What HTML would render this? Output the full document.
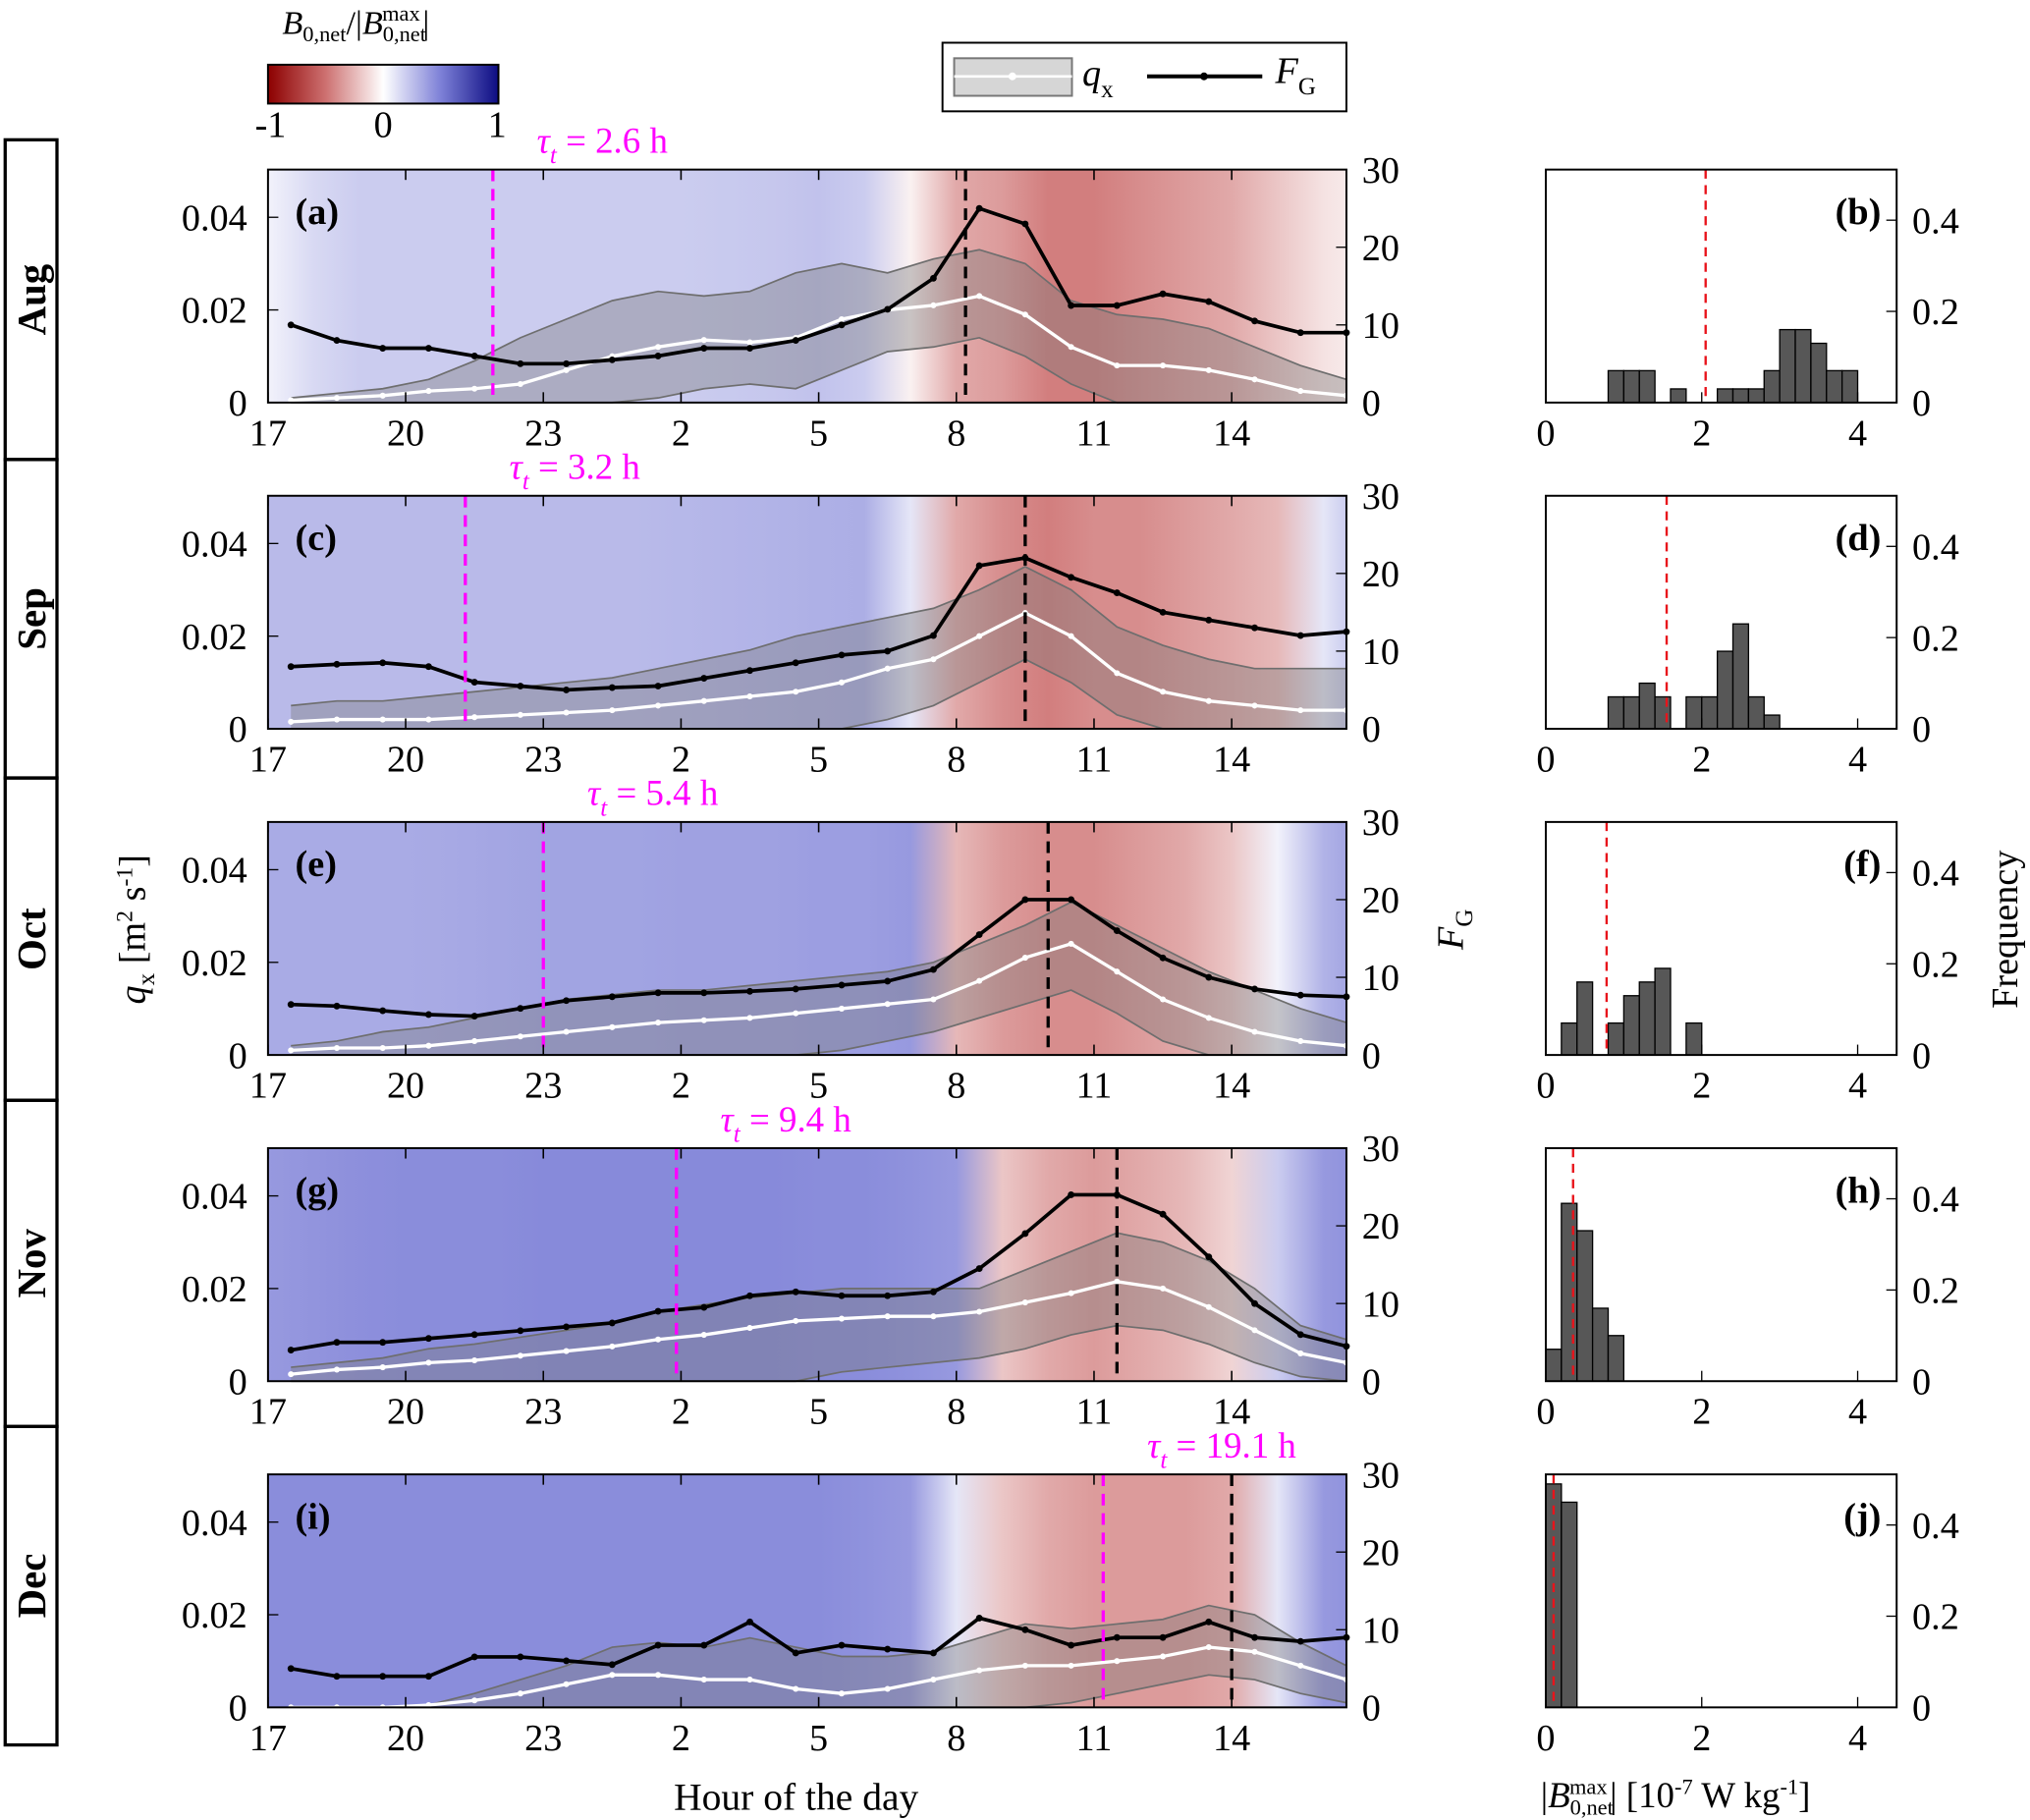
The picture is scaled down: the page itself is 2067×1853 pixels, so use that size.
<!DOCTYPE html>
<html><head><meta charset="utf-8"><style>
html,body{margin:0;padding:0;background:#fff;}
svg{display:block;font-family:"Liberation Serif",serif;}
</style></head><body>
<svg id="fig" width="2067" height="1853" viewBox="0 0 1568 1406" preserveAspectRatio="none" xmlns="http://www.w3.org/2000/svg"></svg>
<script>
// ---- data (clock hours 17.5,18.5,...,16.5) ----
const hourTicks=['17','20','23','2','5','8','11','14'];
const months=['Aug','Sep','Oct','Nov','Dec'];
const labelsL=['(a)','(c)','(e)','(g)','(i)'];
const labelsR=['(b)','(d)','(f)','(h)','(j)'];
const qTicks=[0,0.02,0.04];
const fTicks=[0,10,20,30];
const freqTicks=[0,0.2,0.4];
const bTicks=[0,2,4];
const fA=[10,8,7,7,6,5,5,5.5,6,7,7,8,10,12,16,25,23,12.5,12.5,14,13,10.5,9,9];
const fC=[8,8.3,8.5,8,6,5.5,5,5.3,5.5,6.5,7.5,8.5,9.5,10,12,21,22,19.5,17.5,15,14,13,12,12.5];
const fE=[6.5,6.3,5.7,5.2,5,6,7,7.5,8,8,8.2,8.5,9,9.5,11,15.5,20,20,16,12.5,10,8.5,7.7,7.5];
const fG=[4,5,5,5.5,6,6.5,7,7.5,9,9.5,11,11.5,11,11,11.5,14.5,19,24,24,21.5,16,10,6,4.5];
const fI=[5,4,4,4,6.5,6.5,6,5.5,8,8,11,7,8,7.5,7,11.5,10,8,9,9,11,9,8.5,9];
const qA=[0.5,1,1.5,2.5,3,4,7,10,12,13.5,13,14,18,20,21,23,19,12,8,8,7,5,2.5,1.5];
const qC=[1.5,2,2,2,2.5,3,3.5,4,5,6,7,8,10,13,15,20,25,20,12,8,6,5,4,4];
const qE=[1,1.5,1.5,2,3,4,5,6,7,7.5,8,9,10,11,12,16,21,24,18,12,8,5,3,2];
const qG=[1.5,2.5,3,4,4.5,5.5,6.5,7.5,9,10,11.5,13,13.5,14,14,15,17,19,21.5,20,16,11,6,4];
const qI=[0,0,0,0.5,1.5,3,5,7,7,6,6,4,3,4,6,8,9,9,10,11,13,12,9,6];
const hiA=[1,2,3,5,9,14,18,22,24,23,24,28,30,28,31,33,30,22,19,18,16,12,8,5];
const hiC=[5,6,6,7,8,9,10,11,13,15,17,20,22,24,26,30,35,30,22,18,15,13,13,13];
const hiE=[2,3,5,6,8,10,12,13,14,14,15,16,17,18,20,24,28,33,28,23,18,14,10,7];
const hiG=[3,4,5,7,8,9.5,11,12.5,15,16.5,18,19,20,20,20,20,24,28,32,30,26,20,12,9];
const hiI=[0,0,0,0.5,3,6,9,13,14,13,15,13,11,11,12,15,18,17,18,19,22,20,14,9];
const loA=[0,0,0,0,0,0,0,0,1,3,4,3,7,11,12,14,10,4,0,0,0,0,0,0];
const loC=[0,0,0,0,0,0,0,0,0,0,0,0,0,2,5,10,15,10,3,0,0,0,0,0];
const loE=[0,0,0,0,0,0,0,0,0,0,0,0,1,3,5,8,11,14,9,3,0,0,0,0];
const loG=[0,0,0,0,0,0,0,0,0,0,0,0,2,3,4,5,7,10,12,11,8,4,1,0];
const loI=[0,0,0,0,0,0,0,0,0,0,0,0,0,0,0,0,0,1,3,5,7,6,3,1];
// background B0 normalised, clock hours 17,18,...,17
const bgA=[0.05,0.15,0.2,0.2,0.2,0.2,0.2,0.2,0.2,0.2,0.21,0.22,0.24,0.2,-0.05,-0.3,-0.35,-0.45,-0.45,-0.4,-0.35,-0.3,-0.2,-0.1,-0.05];
const bgC=[0.27,0.27,0.27,0.27,0.27,0.27,0.27,0.27,0.27,0.28,0.29,0.3,0.31,0.32,0.1,-0.3,-0.4,-0.45,-0.4,-0.4,-0.35,-0.3,-0.25,0.1,0.3];
const bgE=[0.33,0.33,0.33,0.33,0.34,0.35,0.36,0.36,0.36,0.37,0.37,0.37,0.38,0.38,0.4,-0.25,-0.35,-0.4,-0.4,-0.35,-0.3,-0.2,0.05,0.3,0.4];
const bgG=[0.4,0.42,0.44,0.45,0.45,0.45,0.46,0.46,0.46,0.46,0.46,0.46,0.45,0.45,0.43,0.4,-0.2,-0.3,-0.35,-0.3,-0.25,-0.15,0.2,0.4,0.45];
const bgI=[0.45,0.45,0.45,0.45,0.45,0.45,0.45,0.45,0.45,0.45,0.45,0.45,0.45,0.43,0.4,0.1,-0.2,-0.3,-0.35,-0.35,-0.35,-0.3,0.1,0.4,0.45];
const peakF=[8.2,9.5,10.0,11.5,14.0];
const tauLine=[21.9,21.3,23.0,1.9,11.2];
const tauText=['2.6','3.2','5.4','9.4','19.1'];
// histograms: bin starts (width 0.2) and frequencies
const hbA=[0.8,1.0,1.2,1.6,2.2,2.4,2.6,2.8,3.0,3.2,3.4,3.6,3.8];
const hvA=[0.07,0.07,0.07,0.03,0.03,0.03,0.03,0.07,0.16,0.16,0.13,0.07,0.07];
const hbC=[0.8,1.0,1.2,1.4,1.8,2.0,2.2,2.4,2.6,2.8];
const hvC=[0.07,0.07,0.10,0.07,0.07,0.07,0.17,0.23,0.07,0.03];
const hbE=[0.2,0.4,0.8,1.0,1.2,1.4,1.8];
const hvE=[0.07,0.16,0.07,0.13,0.16,0.19,0.07];
const hbG=[0.0,0.2,0.4,0.6,0.8];
const hvG=[0.07,0.39,0.33,0.16,0.10];
const hbI=[0.0,0.2];
const hvI=[0.49,0.45];
const medB=[2.05,1.55,0.78,0.35,0.1];

const svg=document.getElementById('fig');
const NS='http://www.w3.org/2000/svg';
function el(tag,attrs,parent){const e=document.createElementNS(NS,tag);for(const k in attrs)e.setAttribute(k,attrs[k]);(parent||svg).appendChild(e);return e;}
function col(v){let a,b,t;if(v>=0){if(v<0.5){a=[255,255,255];b=[125,128,215];t=v/0.5;}else{a=[125,128,215];b=[12,12,130];t=(v-0.5)/0.5;}}
 else{const w=-v;if(w<0.5){a=[255,255,255];b=[205,112,112];t=w/0.5;}else{a=[205,112,112];b=[140,0,0];t=(w-0.5)/0.5;}}
 return 'rgb('+a.map((c,i)=>Math.round(c+(b[i]-c)*t)).join(',')+')';}

const L=207,R=1040,PH=180,HL=1194,HR=1465;
const tops=[131,383,635,887,1139];
const FS=[fA,fC,fE,fG,fI],QS=[qA,qC,qE,qG,qI],HI=[hiA,hiC,hiE,hiG,hiI],LO=[loA,loC,loE,loG,loI],BG=[bgA,bgC,bgE,bgG,bgI];
const HB=[hbA,hbC,hbE,hbG,hbI],HV=[hvA,hvC,hvE,hvG,hvI];
const defs=el('defs',{});
function xe(e){return L+e*(R-L)/23.5;}
function xc(c){return xe(((c-17)%24+24)%24);}

for(let p=0;p<5;p++){
 const T=tops[p],B=T+PH;
 const yq=v=>B-v/0.0503*PH, yf=v=>B-v/30*PH;
 const g=el('g',{});
 
 
 const gid='bg'+p;const lg=el('linearGradient',{id:gid,gradientUnits:'userSpaceOnUse',x1:L,x2:xe(24),y1:0,y2:0},defs);
 BG[p].forEach((v,i)=>el('stop',{offset:(i/24),'stop-color':col(v)},lg));
 const bg=el('rect',{x:L,y:T,width:R-L,height:PH,fill:'url(#'+gid+')'},g);
 
 
 const n=QS[p].length;let up=[],dn=[];
 for(let i=0;i<n;i++){up.push(xe(i+0.5)+','+yq(HI[p][i]/1000));}
 for(let i=n-1;i>=0;i--){dn.push(xe(i+0.5)+','+yq(LO[p][i]/1000));}
 const band=el('polygon',{points:up.concat(dn).join(' '),fill:'rgba(120,120,120,0.38)',stroke:'none'},g);
 
 
 el('polyline',{points:up.join(' '),fill:'none',stroke:'#6e6e6e','stroke-width':1.3},g);
 el('polyline',{points:dn.join(' '),fill:'none',stroke:'#6e6e6e','stroke-width':1.3},g);
 const mp=QS[p].map((v,i)=>xe(i+0.5)+','+yq(v/1000)).join(' ');
 const ml=el('polyline',{points:mp,fill:'none',stroke:'#fff','stroke-width':2.5},g);
 
 
 QS[p].forEach((v,i)=>{el('circle',{cx:xe(i+0.5),cy:yq(v/1000),r:2.3,fill:'#fff'},g);});
 const fp=FS[p].map((v,i)=>xe(i+0.5)+','+yf(v)).join(' ');
 const fl=el('polyline',{points:fp,fill:'none',stroke:'#000','stroke-width':2.8},g);
 
 
 FS[p].forEach((v,i)=>{el('circle',{cx:xe(i+0.5),cy:yf(v),r:2.6,fill:'#000'},g);});
 const pk=el('line',{x1:xc(peakF[p]),x2:xc(peakF[p]),y1:T,y2:B,stroke:'#000','stroke-width':2.5,'stroke-dasharray':'9,6'},g);
 
 
 const tl=el('line',{x1:xc(tauLine[p]),x2:xc(tauLine[p]),y1:T,y2:B,stroke:'#ff00ff','stroke-width':2.5,'stroke-dasharray':'9,6'},g);
 
 
 const tt=el('text',{x:xc(tauLine[p])+34,y:T-13,fill:'#ff00ff','font-size':28},g);
 tt.innerHTML='<tspan font-style="italic">τ</tspan><tspan font-size="19" dy="8" font-style="italic">t</tspan><tspan dy="-8">  =  '+tauText[p]+' h</tspan>';
 
 
 el('rect',{x:L,y:T,width:R-L,height:PH,fill:'none',stroke:'#000','stroke-width':1.5},g);
 hourTicks.forEach((h,i)=>{const x=xe(i*3);el('line',{x1:x,x2:x,y1:B,y2:B-8,stroke:'#000','stroke-width':1.2},g);el('line',{x1:x,x2:x,y1:T,y2:T+8,stroke:'#000','stroke-width':1.2},g);
  const t=el('text',{x:x,y:B+33,'font-size':29,'text-anchor':'middle'},g);t.textContent=h;
  
  });
 qTicks.forEach(v=>{const y=yq(v);el('line',{x1:L,x2:L+8,y1:y,y2:y,stroke:'#000'},g);
  const t=el('text',{x:L-16,y:y+10,'font-size':29,'text-anchor':'end'},g);t.textContent=v===0?'0':v.toFixed(2);
  
  });
 fTicks.forEach(v=>{const y=yf(v);el('line',{x1:R,x2:R-8,y1:y,y2:y,stroke:'#000'},g);
  const t=el('text',{x:R+12,y:y+10,'font-size':29},g);t.textContent=v;
  
  });
 const pl=el('text',{x:228,y:T+42,'font-size':29,'font-weight':'bold'},g);pl.textContent=labelsL[p];
 
 
 const hx=v=>HL+v*(HR-HL)/4.5, hy=v=>B-v/0.511*PH;
 const hg=el('g',{});
 
 
 HB[p].forEach((b,i)=>{const r=el('rect',{x:hx(b),y:hy(HV[p][i]),width:hx(b+0.2)-hx(b),height:B-hy(HV[p][i]),fill:'#575757',stroke:'#000','stroke-width':1},hg);
  
  });
 const md=el('line',{x1:hx(medB[p]),x2:hx(medB[p]),y1:T,y2:B,stroke:'#e8141b','stroke-width':1.8,'stroke-dasharray':'7,5'},hg);
 
 
 el('rect',{x:HL,y:T,width:HR-HL,height:PH,fill:'none',stroke:'#000','stroke-width':1.5},hg);
 bTicks.forEach(v=>{const x=hx(v);el('line',{x1:x,x2:x,y1:B,y2:B-8,stroke:'#000'},hg);
  const t=el('text',{x:x,y:B+33,'font-size':29,'text-anchor':'middle'},hg);t.textContent=v;
  
  });
 freqTicks.forEach(v=>{const y=hy(v);el('line',{x1:HR,x2:HR-8,y1:y,y2:y,stroke:'#000'},hg);
  const t=el('text',{x:HR+12,y:y+10,'font-size':29},hg);t.textContent=v===0?'0':v.toFixed(1);
  
  });
 const hl=el('text',{x:1453,y:T+42,'font-size':29,'font-weight':'bold','text-anchor':'end'},hg);hl.textContent=labelsR[p];
 
 
}
const mTops=[108,355,601,850,1102,1348];
for(let i=0;i<5;i++){const y0=mTops[i],y1=mTops[i+1];
 el('rect',{x:4,y:y0,width:40,height:y1-y0,fill:'none',stroke:'#000','stroke-width':2.5});
 const t=el('text',{x:0,y:0,'font-size':31,'font-weight':'bold','text-anchor':'middle',transform:'translate(35,'+((y0+y1)/2)+') rotate(-90)'});t.textContent=months[i];
 
 }
const cg=el('linearGradient',{id:'cbar',x1:0,x2:1,y1:0,y2:0},defs);
for(let i=0;i<=20;i++){el('stop',{offset:i/20,'stop-color':col(-1+i/10)},cg);}
const cb=el('rect',{x:207,y:50,width:178,height:30,fill:'url(#cbar)',stroke:'#000','stroke-width':1.5});


[['-1',209],['0',296],['1',384]].forEach(a=>{const t=el('text',{x:a[1],y:106,'font-size':29,'text-anchor':'middle'});t.textContent=a[0];
 
 });
const ct=el('text',{x:218,y:26,'font-size':26});
ct.innerHTML='<tspan font-style="italic">B</tspan><tspan font-size="17" dy="6">0,net</tspan><tspan dy="-6">/|</tspan><tspan font-style="italic">B</tspan><tspan font-size="17" dy="6">0,net</tspan><tspan font-size="17" dx="-34" dy="-16">max</tspan><tspan dx="2" dy="10">|</tspan>';


const lgG=el('g',{});


el('rect',{x:728,y:33,width:312,height:53,fill:'#fff',stroke:'#000','stroke-width':1.5},lgG);
el('rect',{x:737,y:45,width:91,height:29,fill:'#d6d6d6',stroke:'#777','stroke-width':1.5},lgG);
el('line',{x1:737,x2:828,y1:59,y2:59,stroke:'#fff','stroke-width':2},lgG);
el('circle',{cx:782,cy:59,r:3,fill:'#fff'},lgG);
const l1=el('text',{x:836,y:66,'font-size':29},lgG);l1.innerHTML='<tspan font-style="italic">q</tspan><tspan font-size="19" dy="9">x</tspan>';
el('line',{x1:886,x2:975,y1:59,y2:59,stroke:'#000','stroke-width':3},lgG);
el('circle',{cx:930,cy:59,r:3,fill:'#000'},lgG);
const l2=el('text',{x:985,y:64,'font-size':29},lgG);l2.innerHTML='<tspan font-style="italic">F</tspan><tspan font-size="19" dy="9">G</tspan>';
const a1=el('text',{x:0,y:0,'font-size':29,'text-anchor':'middle',transform:'translate(112,718) rotate(-90)'});
a1.innerHTML='<tspan font-style="italic">q</tspan><tspan font-size="19" dy="7">x</tspan><tspan dy="-7"> [m</tspan><tspan font-size="18" dy="-10">2</tspan><tspan dy="10"> s</tspan><tspan font-size="18" dy="-10">-1</tspan><tspan dy="10">]</tspan>';


const a2=el('text',{x:0,y:0,'font-size':29,'text-anchor':'middle',transform:'translate(1130,718) rotate(-90)'});
a2.innerHTML='<tspan font-style="italic">F</tspan><tspan font-size="19" dy="7">G</tspan>';


const a3=el('text',{x:0,y:0,'font-size':29,'text-anchor':'middle',transform:'translate(1558,718) rotate(-90)'});a3.textContent='Frequency';


const a4=el('text',{x:615,y:1398,'font-size':30,'text-anchor':'middle'});a4.textContent='Hour of the day';


const a5=el('text',{x:1190,y:1396,'font-size':28});
a5.innerHTML='|<tspan font-style="italic">B</tspan><tspan font-size="17" dy="6">0,net</tspan><tspan font-size="17" dx="-34" dy="-16">max</tspan><tspan dx="2" dy="10">| [10</tspan><tspan font-size="17" dy="-10">-7</tspan><tspan dy="10"> W kg</tspan><tspan font-size="17" dy="-10">-1</tspan><tspan dy="10">]</tspan>';


</script>
</body></html>
